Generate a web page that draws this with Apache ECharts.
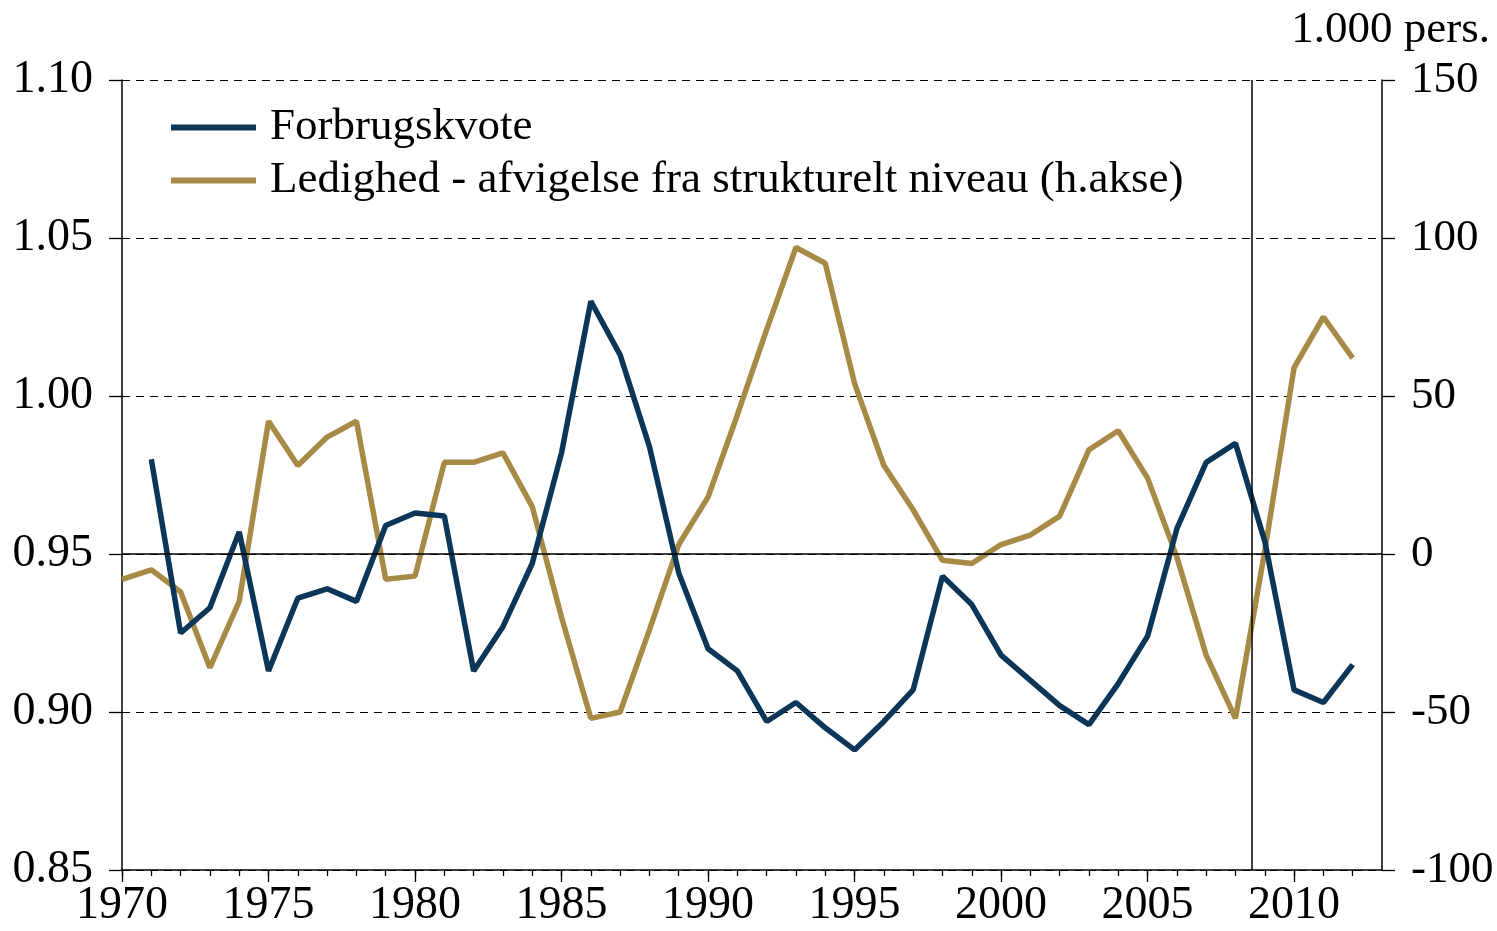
<!DOCTYPE html>
<html>
<head>
<meta charset="utf-8">
<script src="https://cdn.jsdelivr.net/npm/echarts@6/dist/echarts.min.js"></script>
<style>
html,body{margin:0;padding:0;background:#fff;}
#chart{width:1497px;height:931px;}
</style>
</head>
<body>
<div id="chart"></div>
<script>
const years = [1970,1971,1972,1973,1974,1975,1976,1977,1978,1979,1980,1981,1982,1983,1984,1985,1986,1987,1988,1989,1990,1991,1992,1993,1994,1995,1996,1997,1998,1999,2000,2001,2002,2003,2004,2005,2006,2007,2008,2009,2010,2011,2012];
const forbrugskvote = [null,0.980,0.925,0.933,0.957,0.913,0.936,0.939,0.935,0.959,0.963,0.962,0.913,0.927,0.947,0.982,1.030,1.013,0.984,0.944,0.920,0.913,0.897,0.903,0.895,0.888,0.897,0.907,0.943,0.934,0.918,0.910,0.902,0.896,0.909,0.924,0.958,0.979,0.985,0.954,0.907,0.903,0.915];
const ledighed = [-8,-5,-12,-36,-15,42,28,37,42,-8,-7,29,29,32,15,-20,-52,-50,-24,3,18,44,71,97,92,54,28,14,-2,-3,3,6,12,33,39,24,-1,-32,-52,1,59,75,62];
const xLabelYears = [1970,1975,1980,1985,1990,1995,2000,2005,2010];
const leftTicks = [0.85,0.90,0.95,1.00,1.05,1.10];
const rightTicks = [-100,-50,0,50,100,150];
const seriesNames = ['Forbrugskvote','Ledighed - afvigelse fra strukturelt niveau (h.akse)'];
const unitLabel = '1.000 pers.';
const zeroLine = 0.95;
const markerYear = 2008.55;

const FONT = 'Liberation Serif';
const BLUE = '#0b3658';
const GOLD = '#a78a45';

const chart = echarts.init(document.getElementById('chart'), null, {renderer:'canvas'});
const tickStyle = {color:'#000', width:1.3};
chart.setOption({
  animation:false,
  backgroundColor:'#fff',
  textStyle:{fontFamily:FONT},
  grid:{left:122, right:115, top:80, bottom:61, containLabel:false},
  legend:{
    orient:'vertical', left:166, top:100, itemGap:8,
    icon:'rect', itemWidth:85, itemHeight:6,
    textStyle:{fontFamily:FONT, fontSize:45, color:'#000', padding:[0,0,0,9]},
    data:seriesNames
  },
  graphic:[{
    type:'text', right:7, top:8,
    style:{text:unitLabel, font:'45px "Liberation Serif"', fill:'#000'}
  }],
  xAxis:[{
    type:'value', min:1970, max:2013, position:'bottom',
    axisLine:{show:true, onZero:false, lineStyle:{color:'#000', width:1.5}},
    axisTick:{show:true, length:6, customValues:years, lineStyle:tickStyle},
    axisLabel:{show:false},
    splitLine:{show:false}
  },{
    type:'value', min:1970, max:2013, position:'bottom',
    axisLine:{show:false, onZero:false},
    axisTick:{show:true, length:12, customValues:xLabelYears, lineStyle:tickStyle},
    axisLabel:{show:true, customValues:xLabelYears, margin:13, fontFamily:FONT, fontSize:46, color:'#000', formatter:v=>String(v)},
    splitLine:{show:false}
  }],
  yAxis:[{
    type:'value', min:0.85, max:1.10, interval:0.05, position:'left',
    axisLine:{show:true, onZero:false, lineStyle:{color:'#000', width:1.5}},
    axisTick:{show:true, length:13, lineStyle:tickStyle},
    axisLabel:{margin:29, fontFamily:FONT, fontSize:46, color:'#000', formatter:v=>v.toFixed(2)},
    splitLine:{show:true, lineStyle:{color:'#000', width:1.2, type:[8,6]}}
  },{
    type:'value', min:-100, max:150, interval:50, position:'right',
    axisLine:{show:true, onZero:false, lineStyle:{color:'#000', width:1.5}},
    axisTick:{show:true, length:13, lineStyle:tickStyle},
    axisLabel:{margin:29, fontFamily:FONT, fontSize:45, color:'#000', formatter:v=>String(v)},
    splitLine:{show:false}
  }],
  series:[{
    name:seriesNames[0], type:'line', xAxisIndex:0, yAxisIndex:0,
    data:years.map((y,i)=>[y,forbrugskvote[i]]),
    showSymbol:false, symbol:'none', connectNulls:false,
    lineStyle:{color:BLUE, width:5.5}, itemStyle:{color:BLUE},
    z:3,
    markLine:{
      silent:true, symbol:'none', label:{show:false},
      lineStyle:{color:'#000', width:1.5, type:'solid'},
      data:[{yAxis:zeroLine},{xAxis:markerYear}]
    }
  },{
    name:seriesNames[1], type:'line', xAxisIndex:0, yAxisIndex:1,
    data:years.map((y,i)=>[y,ledighed[i]]),
    showSymbol:false, symbol:'none',
    lineStyle:{color:GOLD, width:5.5}, itemStyle:{color:GOLD},
    z:2
  }]
});
</script>
</body>
</html>
